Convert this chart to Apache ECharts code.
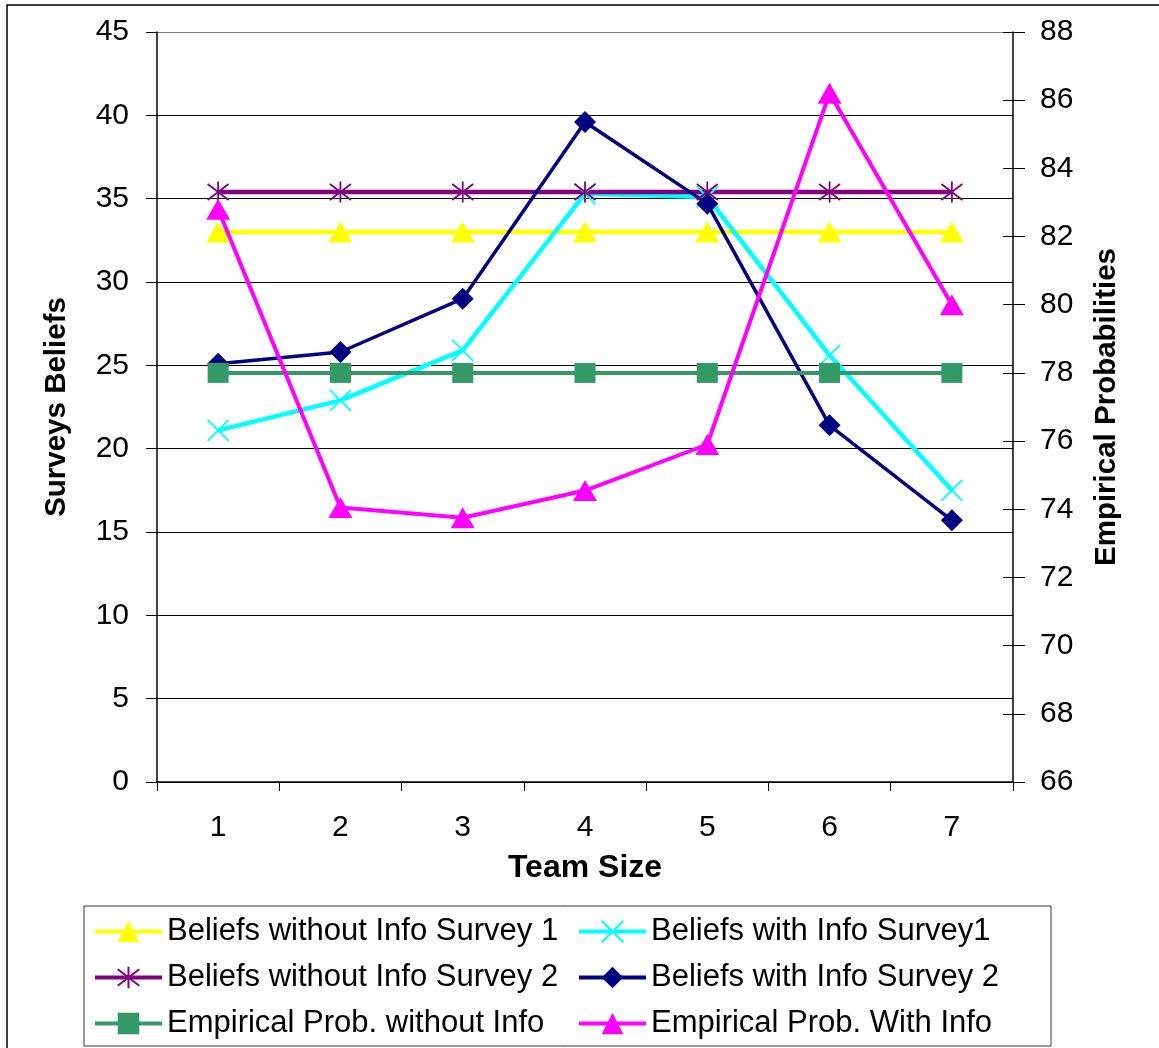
<!DOCTYPE html>
<html>
<head>
<meta charset="utf-8">
<style>
  html, body { margin: 0; padding: 0; background: #fff; }
  #chart { width: 1159px; height: 1048px; }
</style>
<script src="https://cdn.jsdelivr.net/npm/echarts@6/dist/echarts.min.js"></script>
</head>
<body>
<div id="chart"></div>
<script>
// Team sizes on the category axis
const teamSizes = ['1', '2', '3', '4', '5', '6', '7'];

// Survey beliefs (left axis)
const beliefsNoInfoS1 = [33, 33, 33, 33, 33, 33, 33];
const beliefsInfoS1 = [21.1, 22.9, 25.9, 35.3, 35.1, 25.6, 17.5];
const beliefsNoInfoS2 = [35.4, 35.4, 35.4, 35.4, 35.4, 35.4, 35.4];
const beliefsInfoS2 = [25.1, 25.8, 29.0, 39.6, 34.7, 21.4, 15.7];

// Empirical probabilities (right axis)
const empiricalNoInfo = [78, 78, 78, 78, 78, 78, 78];
const empiricalInfo = [82.8, 74.05, 73.75, 74.55, 75.9, 86.2, 80.0];

const FONT = '"Liberation Sans", Arial, sans-serif';

// Stroke-only marker shapes
const crossPath = 'path://M0,0L10,10M10,0L0,10';
const asteriskPath = 'path://M0,0L10,10M10,0L0,10M5,-1.5L5,11.5';

const chart = echarts.init(document.getElementById('chart'), null, { renderer: 'canvas' });

const gridColors = ['#000', '#000', '#000', '#000', '#000', '#000', '#000', '#000', '#000', '#808080'];

function lineSeries(name, data, color, symbol, size, yAxisIndex, width, borderWidth) {
  return {
    name: name,
    type: 'line',
    data: data,
    yAxisIndex: yAxisIndex,
    color: color,
    symbol: symbol,
    symbolSize: size,
    lineStyle: { color: color, width: width },
    itemStyle: { color: color, borderColor: color, borderWidth: borderWidth || 0 },
    emphasis: { disabled: true },
    animation: false
  };
}

const legendText = { fontFamily: FONT, fontSize: 31, color: '#000' };
const legendCommon = {
  orient: 'vertical', top: 916, padding: 0, itemGap: 15,
  itemWidth: 67, itemHeight: 27,
  selectedMode: false,
  lineStyle: { width: 4 },
  textStyle: legendText
};

chart.setOption({
  backgroundColor: '#fff',
  animation: false,
  textStyle: { fontFamily: FONT },
  grid: { left: 157, right: 146, top: 32, bottom: 266, containLabel: false },
  graphic: [
    {
      type: 'rect', silent: true, z: -1,
      shape: { x: 7, y: 5, width: 1200, height: 1100 },
      style: { fill: 'none', stroke: '#000', lineWidth: 1.5 }
    },
    {
      type: 'rect', silent: true,
      shape: { x: 84, y: 906, width: 967, height: 140 },
      style: { fill: 'none', stroke: '#333', lineWidth: 1 }
    }
  ],
  legend: [
    Object.assign({}, legendCommon, {
      left: 93,
      data: ['Beliefs without Info Survey 1', 'Beliefs without Info Survey 2', 'Empirical Prob. without Info']
    }),
    Object.assign({}, legendCommon, {
      left: 577,
      data: ['Beliefs with Info Survey1', 'Beliefs with Info Survey 2', 'Empirical Prob. With Info']
    })
  ],
  xAxis: {
    type: 'category',
    data: teamSizes,
    boundaryGap: true,
    name: 'Team Size',
    nameLocation: 'middle',
    nameGap: 70,
    nameTextStyle: { fontFamily: FONT, fontSize: 32, fontWeight: 'bold', color: '#000' },
    axisLine: { lineStyle: { color: '#000', width: 1.5 } },
    axisTick: { show: true, inside: false, length: 9, lineStyle: { color: '#000' } },
    axisLabel: { margin: 31, fontFamily: FONT, fontSize: 30, color: '#000' },
    splitLine: { show: false }
  },
  yAxis: [
    {
      type: 'value', position: 'left',
      min: 0, max: 45, interval: 5,
      name: 'Surveys Beliefs',
      nameLocation: 'middle',
      nameRotate: 90,
      nameGap: 85,
      nameTextStyle: { fontFamily: FONT, fontSize: 29.5, fontWeight: 'bold', color: '#000' },
      axisLine: { show: true, lineStyle: { color: '#000', width: 1.5 } },
      axisTick: { show: true, inside: false, length: 11, lineStyle: { color: '#000' } },
      axisLabel: { margin: 28, fontFamily: FONT, fontSize: 30, color: '#000' },
      splitLine: { show: true, lineStyle: { color: gridColors, width: 1 } }
    },
    {
      type: 'value', position: 'right',
      min: 66, max: 88, interval: 2,
      name: 'Empirical Probabilities',
      nameLocation: 'middle',
      nameRotate: 90,
      nameGap: 79,
      nameTextStyle: { fontFamily: FONT, fontSize: 29.5, fontWeight: 'bold', color: '#000' },
      axisLine: { show: true, lineStyle: { color: '#000', width: 1.5 } },
      axisTick: { show: true, inside: false, length: 12, lineStyle: { color: '#000' } },
      axisLabel: { margin: 27, fontFamily: FONT, fontSize: 30, color: '#000' },
      splitLine: { show: false }
    },
    {
      // inner half of the crossing ticks on the right axis
      type: 'value', position: 'right',
      min: 66, max: 88, interval: 2,
      axisLine: { show: false },
      axisTick: { show: true, inside: true, length: 10, lineStyle: { color: '#000' } },
      axisLabel: { show: false },
      splitLine: { show: false }
    }
  ],
  series: [
    lineSeries('Beliefs without Info Survey 1', beliefsNoInfoS1, '#FFFF00', 'triangle', [24, 21], 0, 4.5),
    lineSeries('Beliefs with Info Survey1', beliefsInfoS1, '#00FFFF', crossPath, [21, 21], 0, 4.5, 1.8),
    lineSeries('Beliefs without Info Survey 2', beliefsNoInfoS2, '#800080', asteriskPath, [21, 21], 0, 4.5, 1.8),
    lineSeries('Beliefs with Info Survey 2', beliefsInfoS2, '#000080', 'diamond', [22, 22], 0, 3.5),
    lineSeries('Empirical Prob. without Info', empiricalNoInfo, '#339966', 'rect', [21, 20], 1, 4),
    lineSeries('Empirical Prob. With Info', empiricalInfo, '#FF00FF', 'triangle', [24, 21], 1, 4)
  ]
});
</script>
</body>
</html>
